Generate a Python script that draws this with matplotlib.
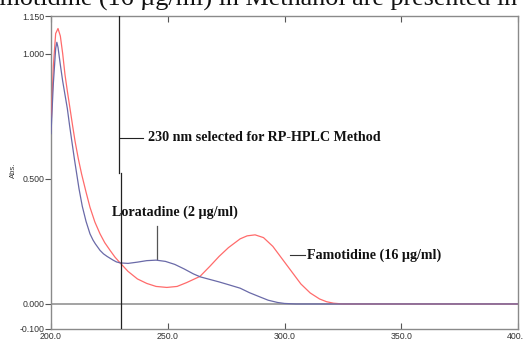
import matplotlib
matplotlib.use("Agg")
import matplotlib.pyplot as plt

# Loratadine (2 ug/ml) - blue trace
lor_nm = [200, 201, 202, 202.5, 203, 204, 205, 206, 207, 208, 209, 210, 211, 212, 213.4, 214.2, 215,
          216.7, 218, 219, 221, 222.5, 224, 226.6, 228, 229.6, 233, 237, 241, 245, 249, 253, 257,
          261, 264, 268, 272, 276, 281, 285, 289.5, 293, 297, 300, 305, 320, 350, 380, 400]
lor_abs = [0.68, 0.88, 1.02, 1.045, 1.025, 0.955, 0.89, 0.835, 0.78, 0.71, 0.645, 0.58, 0.52, 0.46, 0.39,
           0.36, 0.33, 0.28, 0.255, 0.24, 0.214, 0.2, 0.19, 0.175, 0.168, 0.164, 0.162, 0.167, 0.173,
           0.175, 0.17, 0.158, 0.14, 0.12, 0.108, 0.098, 0.088, 0.077, 0.063, 0.045, 0.028, 0.015,
           0.006, 0.002, 0.0, 0.0, 0.0, 0.0, 0.0]

# Famotidine (16 ug/ml) - red trace
fam_nm = [200, 201, 202, 203, 204, 205, 206, 207, 208.1, 209.2, 210.3, 211.7, 213.1, 215, 216.7,
          218.8, 221, 223, 225.3, 227.4, 229.6, 233, 237, 241, 245, 249.6, 254, 258, 263.8, 268,
          272, 276, 281, 284, 287.4, 291, 295, 299, 303, 307, 311, 315, 318, 321, 325, 350, 380, 400]
fam_abs = [0.70, 0.95, 1.08, 1.10, 1.07, 1.00, 0.915, 0.85, 0.783, 0.715, 0.65, 0.58, 0.519, 0.447,
           0.386, 0.327, 0.28, 0.245, 0.214, 0.187, 0.164, 0.13, 0.10, 0.082, 0.07, 0.066, 0.07, 0.085,
           0.11, 0.15, 0.19, 0.225, 0.26, 0.272, 0.276, 0.265, 0.23, 0.18, 0.13, 0.08, 0.044, 0.02,
           0.009, 0.003, 0.0, 0.0, 0.0, 0.0]

x_ticks = [200, 250, 300, 350, 400]
x_labels = ["200.0", "250.0", "300.0", "350.0", "400.0"]
y_ticks = [-0.1, 0.0, 0.5, 1.0, 1.15]
y_labels = ["-0.100", "0.000", "0.500", "1.000", "1.150"]

fig = plt.figure(figsize=(5.23, 3.40), dpi=100)
ax = fig.add_axes([51/523, 11/340, (518-51)/523, (329-16)/340])

ax.set_xlim(200, 400)
ax.set_ylim(-0.1, 1.15)

ax.axhline(0, color="#8a8a8a", lw=1.1, zorder=1)

ax.plot(fam_nm, fam_abs, color="#ff6b6b", lw=0.9, zorder=3)
ax.plot(lor_nm, lor_abs, color="#6a6aa8", lw=0.9, zorder=3)

# selected wavelength line (composite of two segments)
ax.plot([229.2, 229.2], [1.15, 0.524], color="#222222", lw=0.9, zorder=4)
ax.plot([229.9, 229.9], [0.524, -0.1], color="#222222", lw=0.9, zorder=4)

serif = ["Liberation Serif", "DejaVu Serif"]
fs = 10.2
ax.plot([229.4, 239.6], [0.663, 0.663], color="#222222", lw=0.8)
ax.text(241.6, 0.663, "230 nm selected for RP-HPLC Method", fontsize=fs,
        fontweight="bold", family=serif, va="center", ha="left", color="#111111")

ax.plot([245.4, 245.4], [0.313, 0.179], color="#555555", lw=0.9)
ax.text(226.1, 0.365, "Loratadine (2 µg/ml)", fontsize=fs,
        fontweight="bold", family=serif, va="center", ha="left", color="#111111")

ax.plot([302.4, 308.8], [0.194, 0.194], color="#333333", lw=0.8)
ax.text(309.7, 0.194, "Famotidine (16 µg/ml)", fontsize=fs,
        fontweight="bold", family=serif, va="center", ha="left", color="#111111")

for s in ax.spines.values():
    s.set_color("#8a8a8a")
    s.set_linewidth(1.0)

ax.set_xticks(x_ticks)
ax.set_xticklabels(x_labels)
ax.set_yticks(y_ticks)
ax.set_yticklabels(y_labels)
ax.tick_params(axis="x", direction="in", length=4, width=0.8, color="#555555",
               top=True, labelsize=6.3, pad=2, labelcolor="#333333")
ax.tick_params(axis="y", direction="out", length=4, width=0.8, color="#555555",
               labelsize=6.3, pad=1, labelcolor="#333333")
for lab in ax.get_xticklabels() + ax.get_yticklabels():
    lab.set_family(["Liberation Sans", "DejaVu Sans"])

fig.text(13/523, 1 - 170/340, "Abs.", rotation=90, fontsize=5.5, ha="center", va="center",
         family=["Liberation Sans", "DejaVu Sans"], color="#333333")

# clipped caption text at top edge
fig.text(-0.105, 1 - 6/340, "of Famotidine (16 µg/ml) in Methanol are presented in",
         fontsize=18.8, family=serif, ha="left", va="baseline", color="#111111")

fig.savefig("out.png", dpi=100)
